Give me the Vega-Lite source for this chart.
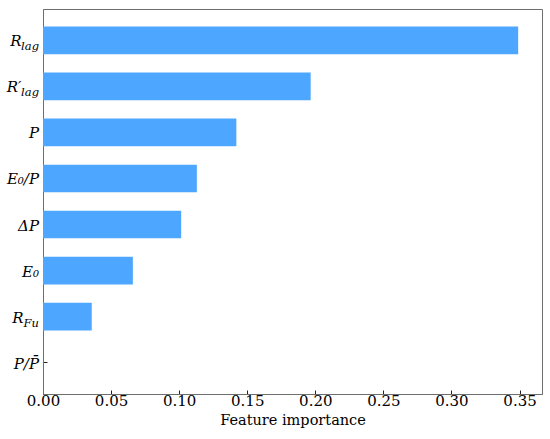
{
  "$schema": "https://vega.github.io/schema/vega-lite/v6.json",
  "width": 499,
  "height": 385,
  "autosize": "none",
  "padding": {"left": 43, "top": 9, "right": 8, "bottom": 45},
  "background": "white",
  "config": {
    "font": "DejaVu Serif",
    "axis": {"labelFont": "DejaVu Serif", "titleFont": "DejaVu Serif"},
    "text": {"font": "DejaVu Serif"},
    "view": {"stroke": "#6e6e6e", "strokeWidth": 1}
  },
  "data": {
    "values": [
      {"feature": "R_lag", "main": "R", "sub": "lag", "importance": 0.349},
      {"feature": "R'_lag", "main": "R′", "sub": "lag", "importance": 0.1966},
      {"feature": "P", "main": "P", "sub": "", "importance": 0.142},
      {"feature": "E0/P", "main": "E₀/P", "sub": "", "importance": 0.113},
      {"feature": "dP", "main": "ΔP", "sub": "", "importance": 0.1015},
      {"feature": "E0", "main": "E₀", "sub": "", "importance": 0.066},
      {"feature": "R_Fu", "main": "R", "sub": "Fu", "importance": 0.0358},
      {"feature": "P/Pbar", "main": "P/P̄", "sub": "", "importance": 0.0}
    ]
  },
  "encoding": {
    "y": {
      "field": "feature",
      "type": "nominal",
      "sort": null,
      "scale": {"paddingInner": 0.4, "paddingOuter": 0.38},
      "axis": {
        "title": null,
        "labels": false,
        "grid": false,
        "tickSize": -4,
        "tickColor": "#222222",
        "domainColor": "#6e6e6e"
      }
    }
  },
  "layer": [
    {
      "mark": {"type": "bar", "color": "#4da6ff"},
      "encoding": {
        "x": {
          "field": "importance",
          "type": "quantitative",
          "scale": {"domain": [0, 0.3665], "nice": false},
          "axis": {
            "title": "Feature importance",
            "titleFontSize": 14.5,
            "titleFontWeight": "normal",
            "titleColor": "#000000",
            "titlePadding": 5,
            "values": [0, 0.05, 0.1, 0.15, 0.2, 0.25, 0.3, 0.35],
            "format": ".2f",
            "labelFontSize": 15,
            "labelColor": "#000000",
            "labelPadding": 3,
            "labelFlush": false,
            "grid": false,
            "tickSize": -4,
            "tickColor": "#222222",
            "domainColor": "#6e6e6e"
          }
        }
      }
    },
    {
      "transform": [{"filter": "datum.sub == ''"}],
      "mark": {"type": "text", "align": "right", "baseline": "alphabetic", "dx": -4, "dy": 6, "fontSize": 15, "fontStyle": "italic", "color": "#000000"},
      "encoding": {"x": {"datum": 0}, "text": {"field": "main"}}
    },
    {
      "transform": [{"filter": "datum.sub == 'lag'"}],
      "mark": {"type": "text", "align": "right", "baseline": "alphabetic", "dx": -21.5, "dy": 6, "fontSize": 15, "fontStyle": "italic", "color": "#000000"},
      "encoding": {"x": {"datum": 0}, "text": {"field": "main"}}
    },
    {
      "transform": [{"filter": "datum.sub == 'Fu'"}],
      "mark": {"type": "text", "align": "right", "baseline": "alphabetic", "dx": -19.5, "dy": 6, "fontSize": 15, "fontStyle": "italic", "color": "#000000"},
      "encoding": {"x": {"datum": 0}, "text": {"field": "main"}}
    },
    {
      "transform": [{"filter": "datum.sub != ''"}],
      "mark": {"type": "text", "align": "right", "baseline": "alphabetic", "dx": -4, "dy": 10, "fontSize": 11.5, "fontStyle": "italic", "color": "#000000"},
      "encoding": {"x": {"datum": 0}, "text": {"field": "sub"}}
    }
  ]
}
